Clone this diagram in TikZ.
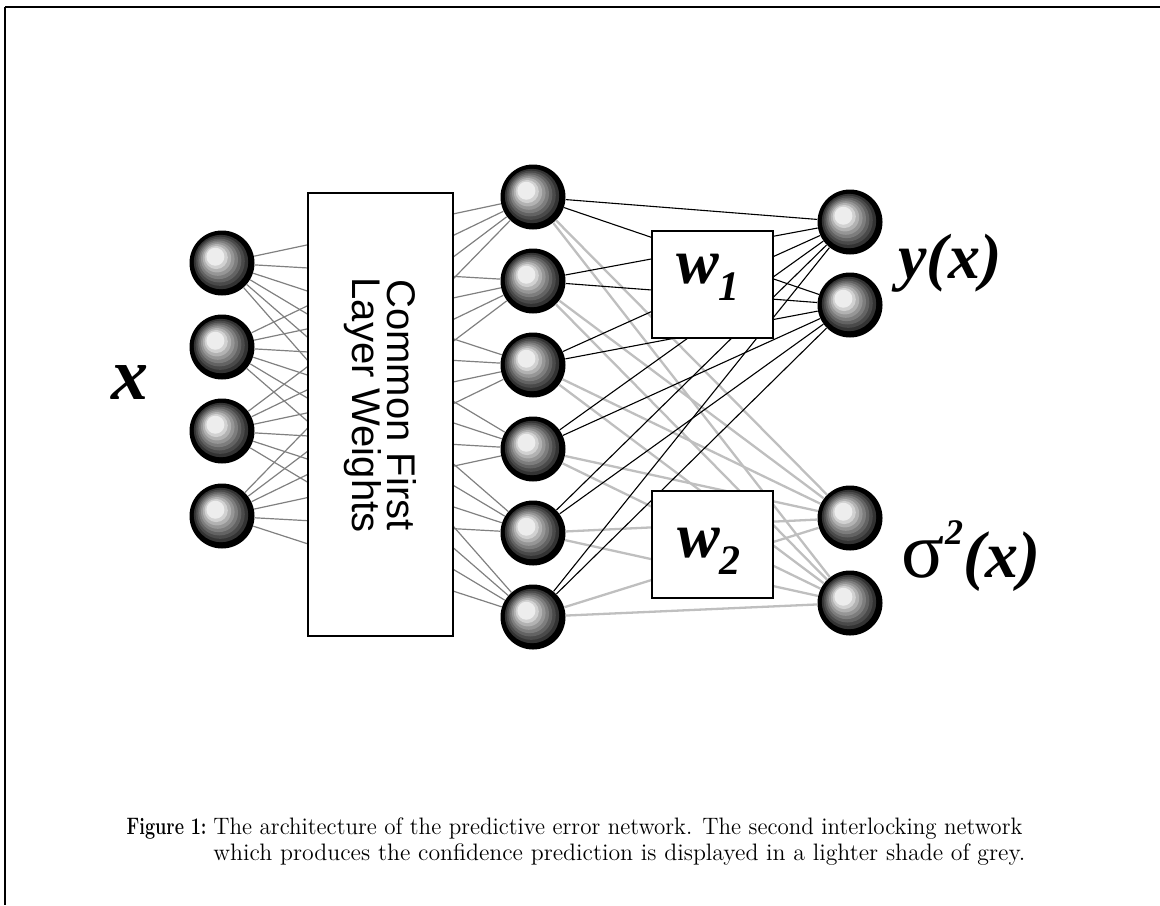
\documentclass[tikz,border=0pt]{standalone}
\usepackage{fontspec}
\newfontfamily\timesf{Liberation Serif}
\newfontfamily\helvf{Liberation Sans}
\begin{document}
\begin{tikzpicture}[x=0.5pt,y=-0.5pt,
  neuron/.style={circle,inner sep=0pt,minimum size=32.5pt,fill=black,
    path picture={\foreach \k/\g in {0/80,1/71,2/61,3/51,4/41,5/30,6/18,7/7}{
      \fill[black!\g] ([shift={({-1-0.8*\k},{-1-0.75*\k})}]path picture bounding box.center) circle[radius={13.6pt-1.3pt*\k}];}}},
  wbox/.style={draw,fill=white,line width=1.4pt,inner sep=0pt,minimum width=60.5pt,minimum height=53.5pt},
  inline/.style={draw=black!50,line width=0.6pt},
  yline/.style={draw=black,line width=0.55pt},
  sline/.style={draw=black!25,line width=1.15pt},
  lab/.style={font=\timesf\bfseries\itshape\fontsize{32}{32}\selectfont,inner sep=0pt},
  capf/.style={font=\fontsize{11.9}{14}\selectfont,inner sep=0pt,anchor=base west}]
\useasboundingbox (0,0) rectangle (1160,905);
% frame
\draw[line width=1.25pt] (5,7) -- (1160,7);
\draw[line width=1pt] (5,7) -- (5,905);
% neurons
\foreach \i/\y in {1/263,2/347,3/431,4/516} \node[neuron] (in\i) at (222,\y) {};
\foreach \j/\y in {1/197,2/281,3/365,4/449,5/533,6/617} \node[neuron] (h\j) at (533,\y) {};
\foreach \k/\y in {1/222,2/305,3/518,4/603} \node[neuron] (o\k) at (850,\y) {};
% connections
\foreach \i in {1,...,4} \foreach \j in {1,...,6} \draw[inline] (in\i) -- (h\j);
\foreach \j in {1,...,6} \foreach \k in {3,4} \draw[sline] (h\j) -- (o\k);
\foreach \j in {1,...,6} \foreach \k in {1,2} \draw[yline] (h\j) -- (o\k);
% boxes
\node[draw,fill=white,line width=1.4pt,inner sep=0pt,minimum width=72.5pt,minimum height=221.5pt] (common) at (380.5,414.5) {};
\node[rotate=-90,align=center,inner sep=0pt,font=\helvf\fontsize{20}{17.5}\selectfont] (commontext) at (380,405) {Common First\\Layer Weights};
\node[wbox] (w1) at (712.5,284.5) {};
\node[wbox] (w2) at (712.5,544.5) {};
\node[lab] (w1t) at (708,277) {w\raisebox{-0.27em}{\fontsize{21}{21}\selectfont 1}};
\node[lab] (w2t) at (709,551) {w\raisebox{-0.27em}{\fontsize{21}{21}\selectfont 2}};
% labels
\node[lab,font=\timesf\bfseries\itshape\fontsize{37}{37}\selectfont] (xlab) at (130,383) {x};
\node[lab] (ylab) at (950,263) {y(x)};
\node[lab,font=\timesf\bfseries\itshape\fontsize{33}{33}\selectfont] (slab) at (971,556) {{\upshape\mdseries\fontsize{40}{40}\selectfont σ}\raisebox{0.5em}{\fontsize{18}{18}\selectfont 2}(x)};
% caption
\node[capf,anchor=base east] (figlab) at (207,834) {\resizebox{40pt}{\height}{\textbf{Figure 1:}}};
\node[capf] (cap1) at (213,834) {\resizebox{404.5pt}{\height}{The architecture of the predictive error network. The second interlocking network}};
\node[capf] (cap2) at (213,860) {\resizebox{406pt}{\height}{which produces the confidence prediction is displayed in a lighter shade of grey.}};
\end{tikzpicture}
\end{document}
